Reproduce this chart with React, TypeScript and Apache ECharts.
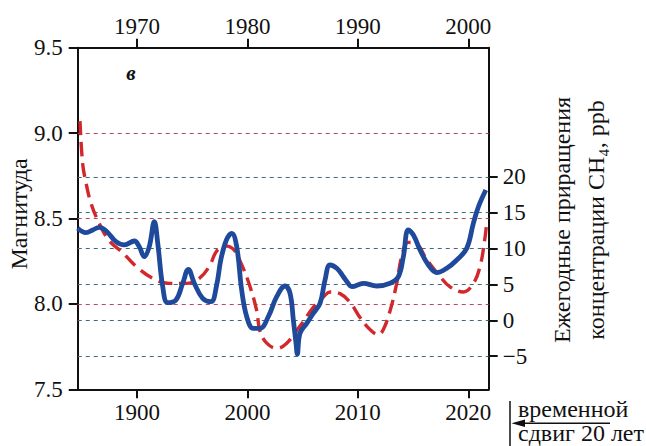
import React, { useEffect, useRef } from "react";
import * as echarts from "echarts";

// Magnitude (red dashed) vs upper year axis
const magYears = [
  1964.84, 1965.08, 1965.38, 1965.83, 1966.59, 1967.49, 1968.7, 1969.91, 1971.42, 1972.93,
  1974.44, 1975.64, 1976.55, 1977.22, 1977.97, 1978.72, 1979.48, 1980.24, 1980.84, 1981.14,
  1981.75, 1982.65, 1983.56, 1984.76, 1985.97, 1986.88, 1987.48, 1988.39, 1989.29, 1990.2,
  1991.1, 1991.86, 1992.31, 1992.92, 1993.52, 1993.98, 1994.57, 1995.34, 1996.24, 1997.45,
  1998.35, 1999.56, 2000.46, 2001.07, 2001.52, 2001.67,
];
const magValues = [
  9.07, 8.82, 8.71, 8.59, 8.47, 8.37, 8.3, 8.22, 8.15, 8.12,
  8.12, 8.15, 8.22, 8.31, 8.34, 8.32, 8.23, 8.1, 7.96, 7.84,
  7.77, 7.74, 7.77, 7.87, 7.98, 8.04, 8.07, 8.06, 8.01, 7.92,
  7.85, 7.82, 7.85, 7.96, 8.12, 8.28, 8.36, 8.35, 8.26, 8.16,
  8.1, 8.07, 8.12, 8.22, 8.39, 8.48,
];

// Annual CH4 increments (blue solid) vs lower year axis
const ch4Years = [
  1984.63, 1985.38, 1985.99, 1986.59, 1987.19, 1988.1, 1988.85, 1989.76, 1990.21, 1990.66,
  1991.11, 1991.57, 1991.88, 1992.33, 1992.78, 1993.53, 1994.14, 1994.65, 1995.19, 1995.95,
  1996.7, 1997.2, 1997.6, 1998.1, 1998.58, 1999.03, 1999.48, 1999.94, 2000.53, 2001.14,
  2001.89, 2002.65, 2003.41, 2003.86, 2004.16, 2004.4, 2004.52, 2004.76, 2005.37, 2005.97,
  2006.58, 2007.03, 2007.48, 2008.09, 2008.69, 2009.1, 2009.45, 2010.5, 2011.71, 2012.92,
  2013.67, 2014.12, 2014.57, 2015.03, 2015.63, 2016.39, 2017.15, 2018.05, 2018.96, 2019.86,
  2020.46, 2020.92, 2021.59,
];
const ch4Values = [
  12.82, 12.21, 12.59, 12.96, 12.49, 10.96, 10.5, 11.05, 10.26, 8.87,
  10.26, 13.74, 10.73, 4.68, 2.45, 2.83, 5.16, 7.11, 5.16, 3.07,
  2.6, 4.8, 8.5, 11.2, 12.13, 10.26, 4.22, 0.5, -1.12, -1.12,
  0.5, 3.29, 4.78, 3.76, 0.04, -3.21, -4.7, -1.81, -0.42, 0.98,
  2.37, 5.62, 7.71, 7.25, 6.08, 5.2, 4.68, 5.16, 4.78, 5.16,
  6.08, 8.87, 12.59, 11.89, 9.8, 7.71, 6.64, 7.25, 8.41, 10.04,
  13.52, 15.83, 18.16,
];

const magTickInterval = 0.5;
const ch4Ticks = [-5, 0, 5, 10, 15, 20];
const topYearTicks = [1970, 1980, 1990, 2000];
const bottomYearTicks = [1990, 2000, 2010, 2020];
const bottomYearLabels = ["1900", "2000", "2010", "2020"];
const magGuides = [9.0, 8.5, 8.0];
const ch4Guides = [20, 15, 10, 5, 0, -5];

const FONT = "Liberation Serif";
const INK = "#111111";

export default function App() {
  const ref = useRef<HTMLDivElement | null>(null);

  useEffect(() => {
    if (!ref.current) return;
    const chart = echarts.init(ref.current, undefined, { renderer: "svg" });

    const axisLine = { show: true, onZero: false, lineStyle: { color: INK, width: 2 } };
    const tick = { show: true, length: 9, lineStyle: { color: INK, width: 2 } };
    const label = { color: INK, fontFamily: FONT, fontSize: 23 };

    const option: any = {
      animation: false,
      backgroundColor: "#ffffff",
      grid: { left: 77.7, right: 157.3, top: 47.7, bottom: 56.7 },
      xAxis: [
        {
          type: "value",
          position: "bottom",
          min: 1984.63,
          max: 2021.85,
          axisLine,
          axisTick: { ...tick, customValues: bottomYearTicks },
          axisLabel: {
            ...label,
            margin: 12,
            customValues: bottomYearTicks,
            formatter: (v: number) => {
              const i = bottomYearTicks.indexOf(Math.round(v));
              return i >= 0 ? bottomYearLabels[i] : "";
            },
          },
          splitLine: { show: false },
        },
        {
          type: "value",
          position: "top",
          min: 1964.63,
          max: 2001.85,
          axisLine,
          axisTick: { ...tick, customValues: topYearTicks },
          axisLabel: {
            ...label,
            margin: 10,
            customValues: topYearTicks,
            formatter: (v: number) => String(Math.round(v)),
          },
          splitLine: { show: false },
        },
      ],
      yAxis: [
        {
          type: "value",
          position: "left",
          min: 7.5,
          max: 9.5,
          interval: magTickInterval,
          axisLine,
          axisTick: tick,
          axisLabel: { ...label, margin: 15, formatter: (v: number) => v.toFixed(1) },
          splitLine: { show: false },
        },
        {
          type: "value",
          position: "right",
          min: -9.62,
          max: 38.0,
          axisLine,
          axisTick: { ...tick, customValues: ch4Ticks },
          axisLabel: {
            ...label,
            margin: 14,
            customValues: ch4Ticks,
            formatter: (v: number) => (v < 0 ? "\u2212" + Math.abs(v) : String(v)),
          },
          splitLine: { show: false },
        },
      ],
      series: [
        {
          name: "Магнитуда",
          type: "line",
          xAxisIndex: 1,
          yAxisIndex: 0,
          data: magYears.map((y, i) => [y, magValues[i]]),
          smooth: 0.4,
          showSymbol: false,
          z: 3,
          lineStyle: { color: "#d2282c", width: 3.4, type: [14, 7] },
          markLine: {
            silent: true,
            symbol: "none",
            z: 1,
            label: { show: false },
            lineStyle: { color: "#b24a5c", width: 1.2, type: [4, 4] },
            data: magGuides.map((v) => ({ yAxis: v })),
          },
        },
        {
          name: "CH4",
          type: "line",
          xAxisIndex: 0,
          yAxisIndex: 1,
          data: ch4Years.map((y, i) => [y, ch4Values[i]]),
          smooth: 0.4,
          showSymbol: false,
          z: 4,
          lineStyle: { color: "#1f4a9b", width: 4.8 },
          markLine: {
            silent: true,
            symbol: "none",
            z: 1,
            label: { show: false },
            lineStyle: { color: "#3e6a7c", width: 1.2, type: [4, 4] },
            data: ch4Guides.map((v) => ({ yAxis: v })),
          },
        },
      ],
      graphic: [
        {
          type: "text",
          x: 19,
          y: 214,
          rotation: Math.PI / 2,
          style: {
            text: "Магнитуда",
            fontFamily: FONT,
            fontSize: 24,
            fill: INK,
            align: "center",
            verticalAlign: "middle",
          },
        },
        {
          type: "text",
          x: 562,
          y: 220,
          rotation: Math.PI / 2,
          style: {
            text: "Ежегодные приращения",
            fontFamily: FONT,
            fontSize: 24,
            fill: INK,
            align: "center",
            verticalAlign: "middle",
          },
        },
        {
          type: "text",
          x: 596,
          y: 220,
          rotation: Math.PI / 2,
          style: {
            text: "концентрации CH₄, ppb",
            fontFamily: FONT,
            fontSize: 24,
            fill: INK,
            align: "center",
            verticalAlign: "middle",
          },
        },
        {
          type: "text",
          x: 131,
          y: 73,
          style: {
            text: "в",
            fontFamily: FONT,
            fontSize: 21,
            fontStyle: "italic",
            fontWeight: "bold",
            fill: INK,
            align: "center",
            verticalAlign: "middle",
          },
        },
        {
          type: "line",
          shape: { x1: 510, y1: 401, x2: 510, y2: 446 },
          style: { stroke: INK, lineWidth: 1.5 },
        },
        {
          type: "line",
          shape: { x1: 516, y1: 423.3, x2: 610, y2: 423.3 },
          style: { stroke: INK, lineWidth: 1.5 },
        },
        {
          type: "polygon",
          shape: { points: [[511.5, 423.3], [525, 419.5], [525, 427.1]] },
          style: { fill: INK },
        },
        {
          type: "text",
          x: 518,
          y: 409,
          style: {
            text: "временной",
            fontFamily: FONT,
            fontSize: 24,
            fill: INK,
            align: "left",
            verticalAlign: "middle",
          },
        },
        {
          type: "text",
          x: 518,
          y: 433,
          style: {
            text: "сдвиг 20 лет",
            fontFamily: FONT,
            fontSize: 24,
            fill: INK,
            align: "left",
            verticalAlign: "middle",
          },
        },
      ],
    };

    chart.setOption(option);
    return () => chart.dispose();
  }, []);

  return (
    <div
      ref={ref}
      style={{ position: "absolute", left: 0, top: 0, width: 646, height: 446 }}
    />
  );
}
